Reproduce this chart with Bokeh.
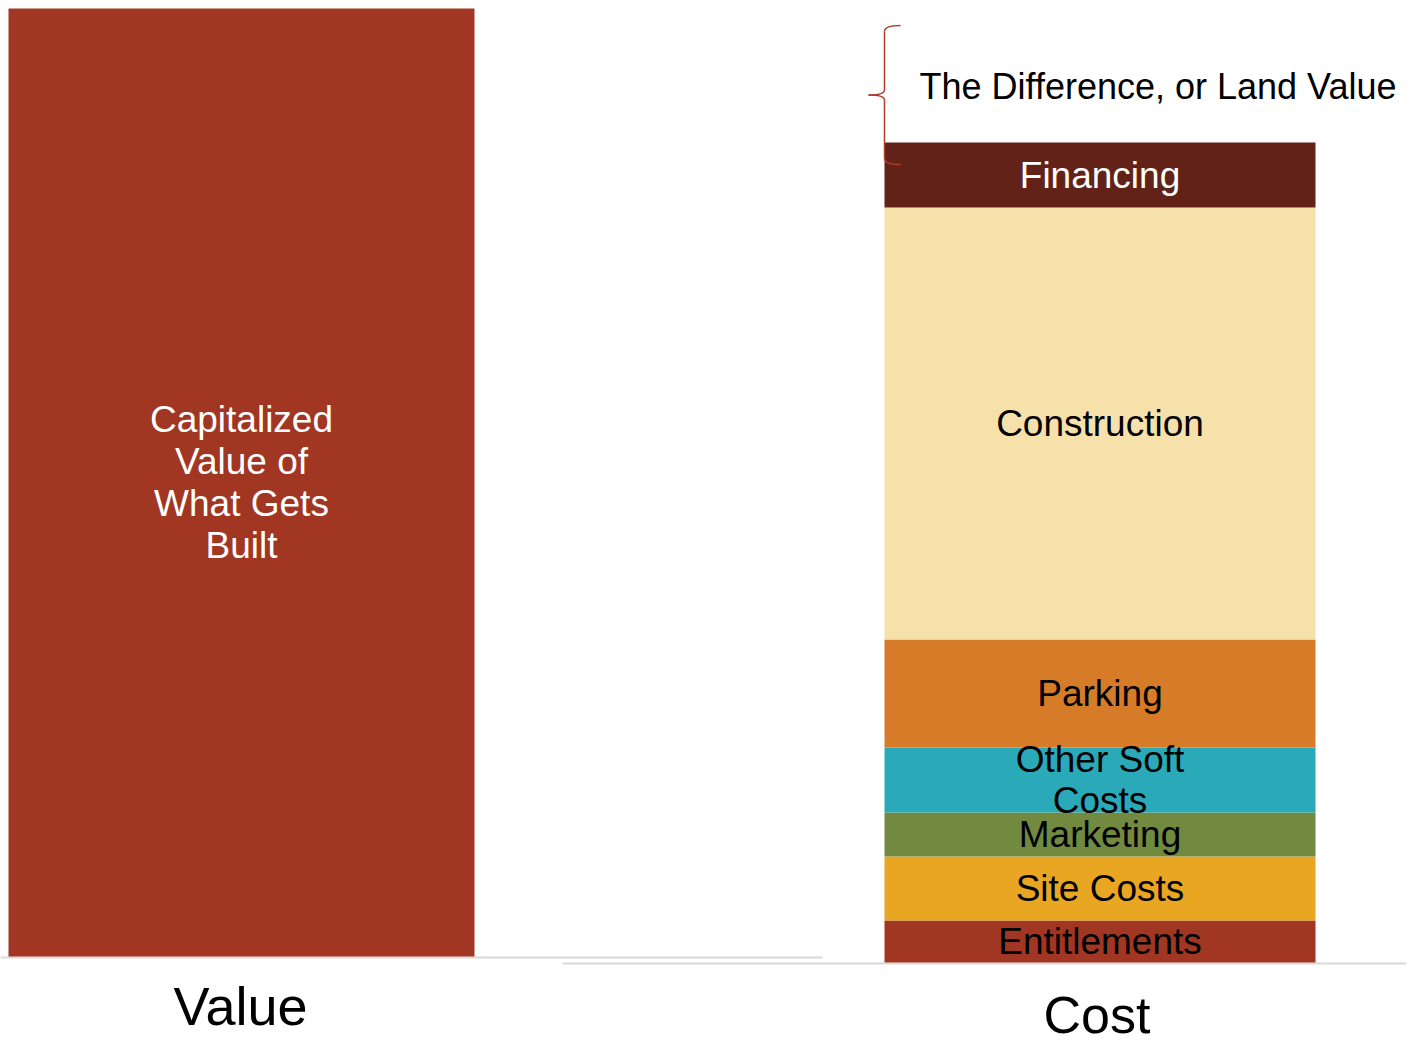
import numpy as np
from bokeh.plotting import figure
from bokeh.models import Range1d, ColumnDataSource
from bokeh.core.properties import value
from bokeh.embed import file_html
from bokeh.resources import INLINE

# ---------------- data ----------------
categories = ["Value", "Cost"]
value_label = "Capitalized\nValue of\nWhat Gets\nBuilt"
value_amount = [948]
cost_items = ["Entitlements", "Site Costs", "Marketing", "Other Soft\nCosts",
              "Parking", "Construction", "Financing"]
cost_amounts = [42, 64, 44, 65, 108, 432, 65]
cost_colors = ["#A13622", "#E9A623", "#718A40", "#2AA9B9",
               "#D67B28", "#F6E1AA", "#622217"]
cost_text_colors = ["black", "black", "black", "black", "black", "black", "white"]
land_value_label = "The Difference, or Land Value"
land_value_span = [798, 937]   # extent of the brace on the cost scale

# ---------------- layout ----------------
W, H = 1406, 1045
FONT = value("Liberation Sans")
value_x, value_w = 241, 466
cost_x, cost_w = 1099.5, 431

p = figure(width=W, height=H, output_backend="svg", toolbar_location=None,
           x_range=Range1d(0, W), y_range=Range1d(-83, 962),
           x_axis_location=None, y_axis_location=None, min_border=0)
p.extra_y_ranges = {"value": Range1d(-89, 956)}
p.outline_line_color = None
p.xgrid.visible = False
p.ygrid.visible = False
p.background_fill_color = "white"
p.border_fill_color = "white"

# baselines
p.line([0, 822], [-1, -1], line_color="#D9D9D9", line_width=2, y_range_name="value")
p.line([562, W], [-1, -1], line_color="#D9D9D9", line_width=2)

# value bar
p.vbar(x=value_x, width=value_w, bottom=0, top=value_amount[0],
       fill_color="#A13622", line_color=None, y_range_name="value")
p.text(x=[value_x], y=[value_amount[0] / 2], text=[value_label],
       text_color="white", text_font=FONT, text_font_size="37px",
       text_align="center", text_baseline="middle", text_line_height=1.02,
       y_range_name="value")

# cost stack
tops = np.cumsum(cost_amounts)
bottoms = tops - np.array(cost_amounts)
src = ColumnDataSource(dict(item=cost_items, bottom=bottoms, top=tops,
                            mid=(bottoms + tops) / 2, color=cost_colors,
                            tcolor=cost_text_colors))
p.vbar(x=cost_x, width=cost_w, bottom="bottom", top="top", fill_color="color",
       line_color=None, source=src)
p.text(x=cost_x, y="mid", text="item", text_color="tcolor", text_font=FONT,
       text_font_size="37px", text_align="center", text_baseline="middle",
       text_line_height=1.02, source=src)

# brace
bx = cost_x - cost_w / 2
lo, hi = land_value_span
mid = (lo + hi) / 2
tip, r = 16, 6
p.quadratic(x0=[bx + tip, bx, bx, bx], y0=[hi, mid + 5, mid - 5, lo + r],
            x1=[bx, bx - tip, bx - tip, bx + tip], y1=[hi - r, mid, mid, lo],
            cx=[bx, bx, bx, bx], cy=[hi, mid, mid, lo],
            line_color="#B03E2C", line_width=1.5)
p.segment(x0=[bx, bx], y0=[hi - r, mid - 5], x1=[bx, bx], y1=[mid + 5, lo + r],
          line_color="#B03E2C", line_width=1.5)
p.text(x=[bx + 35], y=[mid + 9], text=[land_value_label], text_color="black",
       text_font=FONT, text_font_size="36px", text_align="left",
       text_baseline="middle")

# category labels
p.text(x=[value_x - 1], y=[-49], text=[categories[0]], text_color="black",
       text_font=FONT, text_font_size="54px", text_align="center",
       text_baseline="middle", y_range_name="value")
p.text(x=[cost_x - 3], y=[-52], text=[categories[1]], text_color="black",
       text_font=FONT, text_font_size="52px", text_align="center",
       text_baseline="middle")

open("out.html", "w").write(file_html(p, INLINE))
